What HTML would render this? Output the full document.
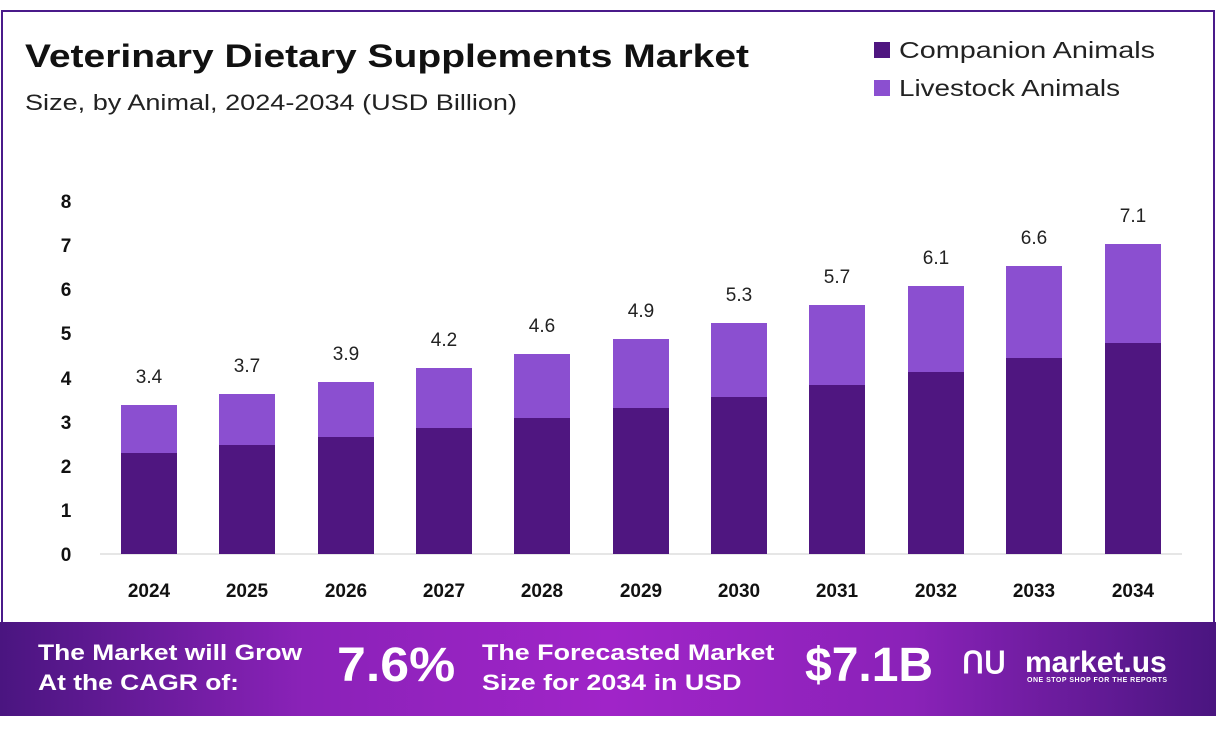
<!DOCTYPE html>
<html><head><meta charset="utf-8"><style>
body{margin:0;width:1216px;height:733px;background:#fff;position:relative;overflow:hidden;font-family:"Liberation Sans",sans-serif}
.frame{position:absolute;left:1px;top:10px;width:1210px;height:612px;border:2px solid #4a1a8a;border-bottom:none}
.foot{position:absolute;left:0;top:622px;width:1216px;height:94px;background:linear-gradient(90deg,#4a1580 0%,#8a22b8 25%,#a024c8 50%,#8a22b8 75%,#4a1580 100%)}
.ft{position:absolute;color:#fff;font-weight:bold;transform-origin:0 0;white-space:nowrap}
</style></head><body>
<div class="frame"></div>
<svg width="1216" height="622" style="position:absolute;left:0;top:0" font-family="Liberation Sans, sans-serif">
<text x="25" y="67" font-size="32" font-weight="bold" fill="#111" textLength="724" lengthAdjust="spacingAndGlyphs">Veterinary Dietary Supplements Market</text>
<text x="25" y="110" font-size="22" fill="#222" textLength="492" lengthAdjust="spacingAndGlyphs">Size, by Animal, 2024-2034 (USD Billion)</text>
<rect x="874" y="42" width="16" height="16" fill="#4f1680"/>
<text x="899" y="58" font-size="23" fill="#222" textLength="256" lengthAdjust="spacingAndGlyphs">Companion Animals</text>
<rect x="874" y="80" width="16" height="16" fill="#8b4fd0"/>
<text x="899" y="96" font-size="23" fill="#222" textLength="221" lengthAdjust="spacingAndGlyphs">Livestock Animals</text>
<g font-size="19" font-weight="bold" fill="#111" text-anchor="middle">
<text x="66" y="208">8</text><text x="66" y="252">7</text><text x="66" y="296">6</text><text x="66" y="340">5</text><text x="66" y="385">4</text><text x="66" y="429">3</text><text x="66" y="473">2</text><text x="66" y="517">1</text><text x="66" y="561">0</text>
</g>
<line x1="100" y1="554" x2="1182" y2="554" stroke="#ccc" stroke-width="1"/>
<g id="bars"></g>
</svg>
<div class="foot"></div>
<div class="ft" style="left:38px;top:638px;font-size:22px;line-height:30px;transform:scaleX(1.2)">The Market will Grow<br>At the CAGR of:</div>
<div class="ft" style="left:337px;top:638px;font-size:48px;line-height:56px;transform:scaleX(1.08)">7.6%</div>
<div class="ft" style="left:482px;top:638px;font-size:22px;line-height:30px;transform:scaleX(1.22)">The Forecasted Market<br>Size for 2034 in USD</div>
<div class="ft" style="left:805px;top:638px;font-size:48px;line-height:56px">$7.1B</div>
<div class="ft" style="left:962px;top:646px;font-size:30px">ՈՍ</div>
<div class="ft" style="left:1025px;top:646px;font-size:30px">market.us</div>
<div class="ft" style="left:1027px;top:677px;font-size:7px;letter-spacing:0.5px">ONE STOP SHOP FOR THE REPORTS</div>
<script>
var c=[149,247,346,444,542,641,739,837,936,1034,1133],
lo=[453,445,437,428,418,408,397,385,372,358,343],
hi=[405,394,382,368,354,339,323,305,286,266,244],
v=["3.4","3.7","3.9","4.2","4.6","4.9","5.3","5.7","6.1","6.6","7.1"],s="";
for(var i=0;i<11;i++){var x=c[i]-28;
s+='<rect x="'+x+'" y="'+hi[i]+'" width="56" height="'+(lo[i]-hi[i])+'" fill="#8b4fd0"/>';
s+='<rect x="'+x+'" y="'+lo[i]+'" width="56" height="'+(554-lo[i])+'" fill="#4f1680"/>';
s+='<text x="'+c[i]+'" y="'+(hi[i]-22)+'" font-size="19" fill="#222" text-anchor="middle">'+v[i]+'</text>';
s+='<text x="'+c[i]+'" y="597" font-size="19" font-weight="bold" fill="#111" text-anchor="middle">'+(2024+i)+'</text>';}
document.getElementById("bars").innerHTML=s;
</script>
</body></html>
